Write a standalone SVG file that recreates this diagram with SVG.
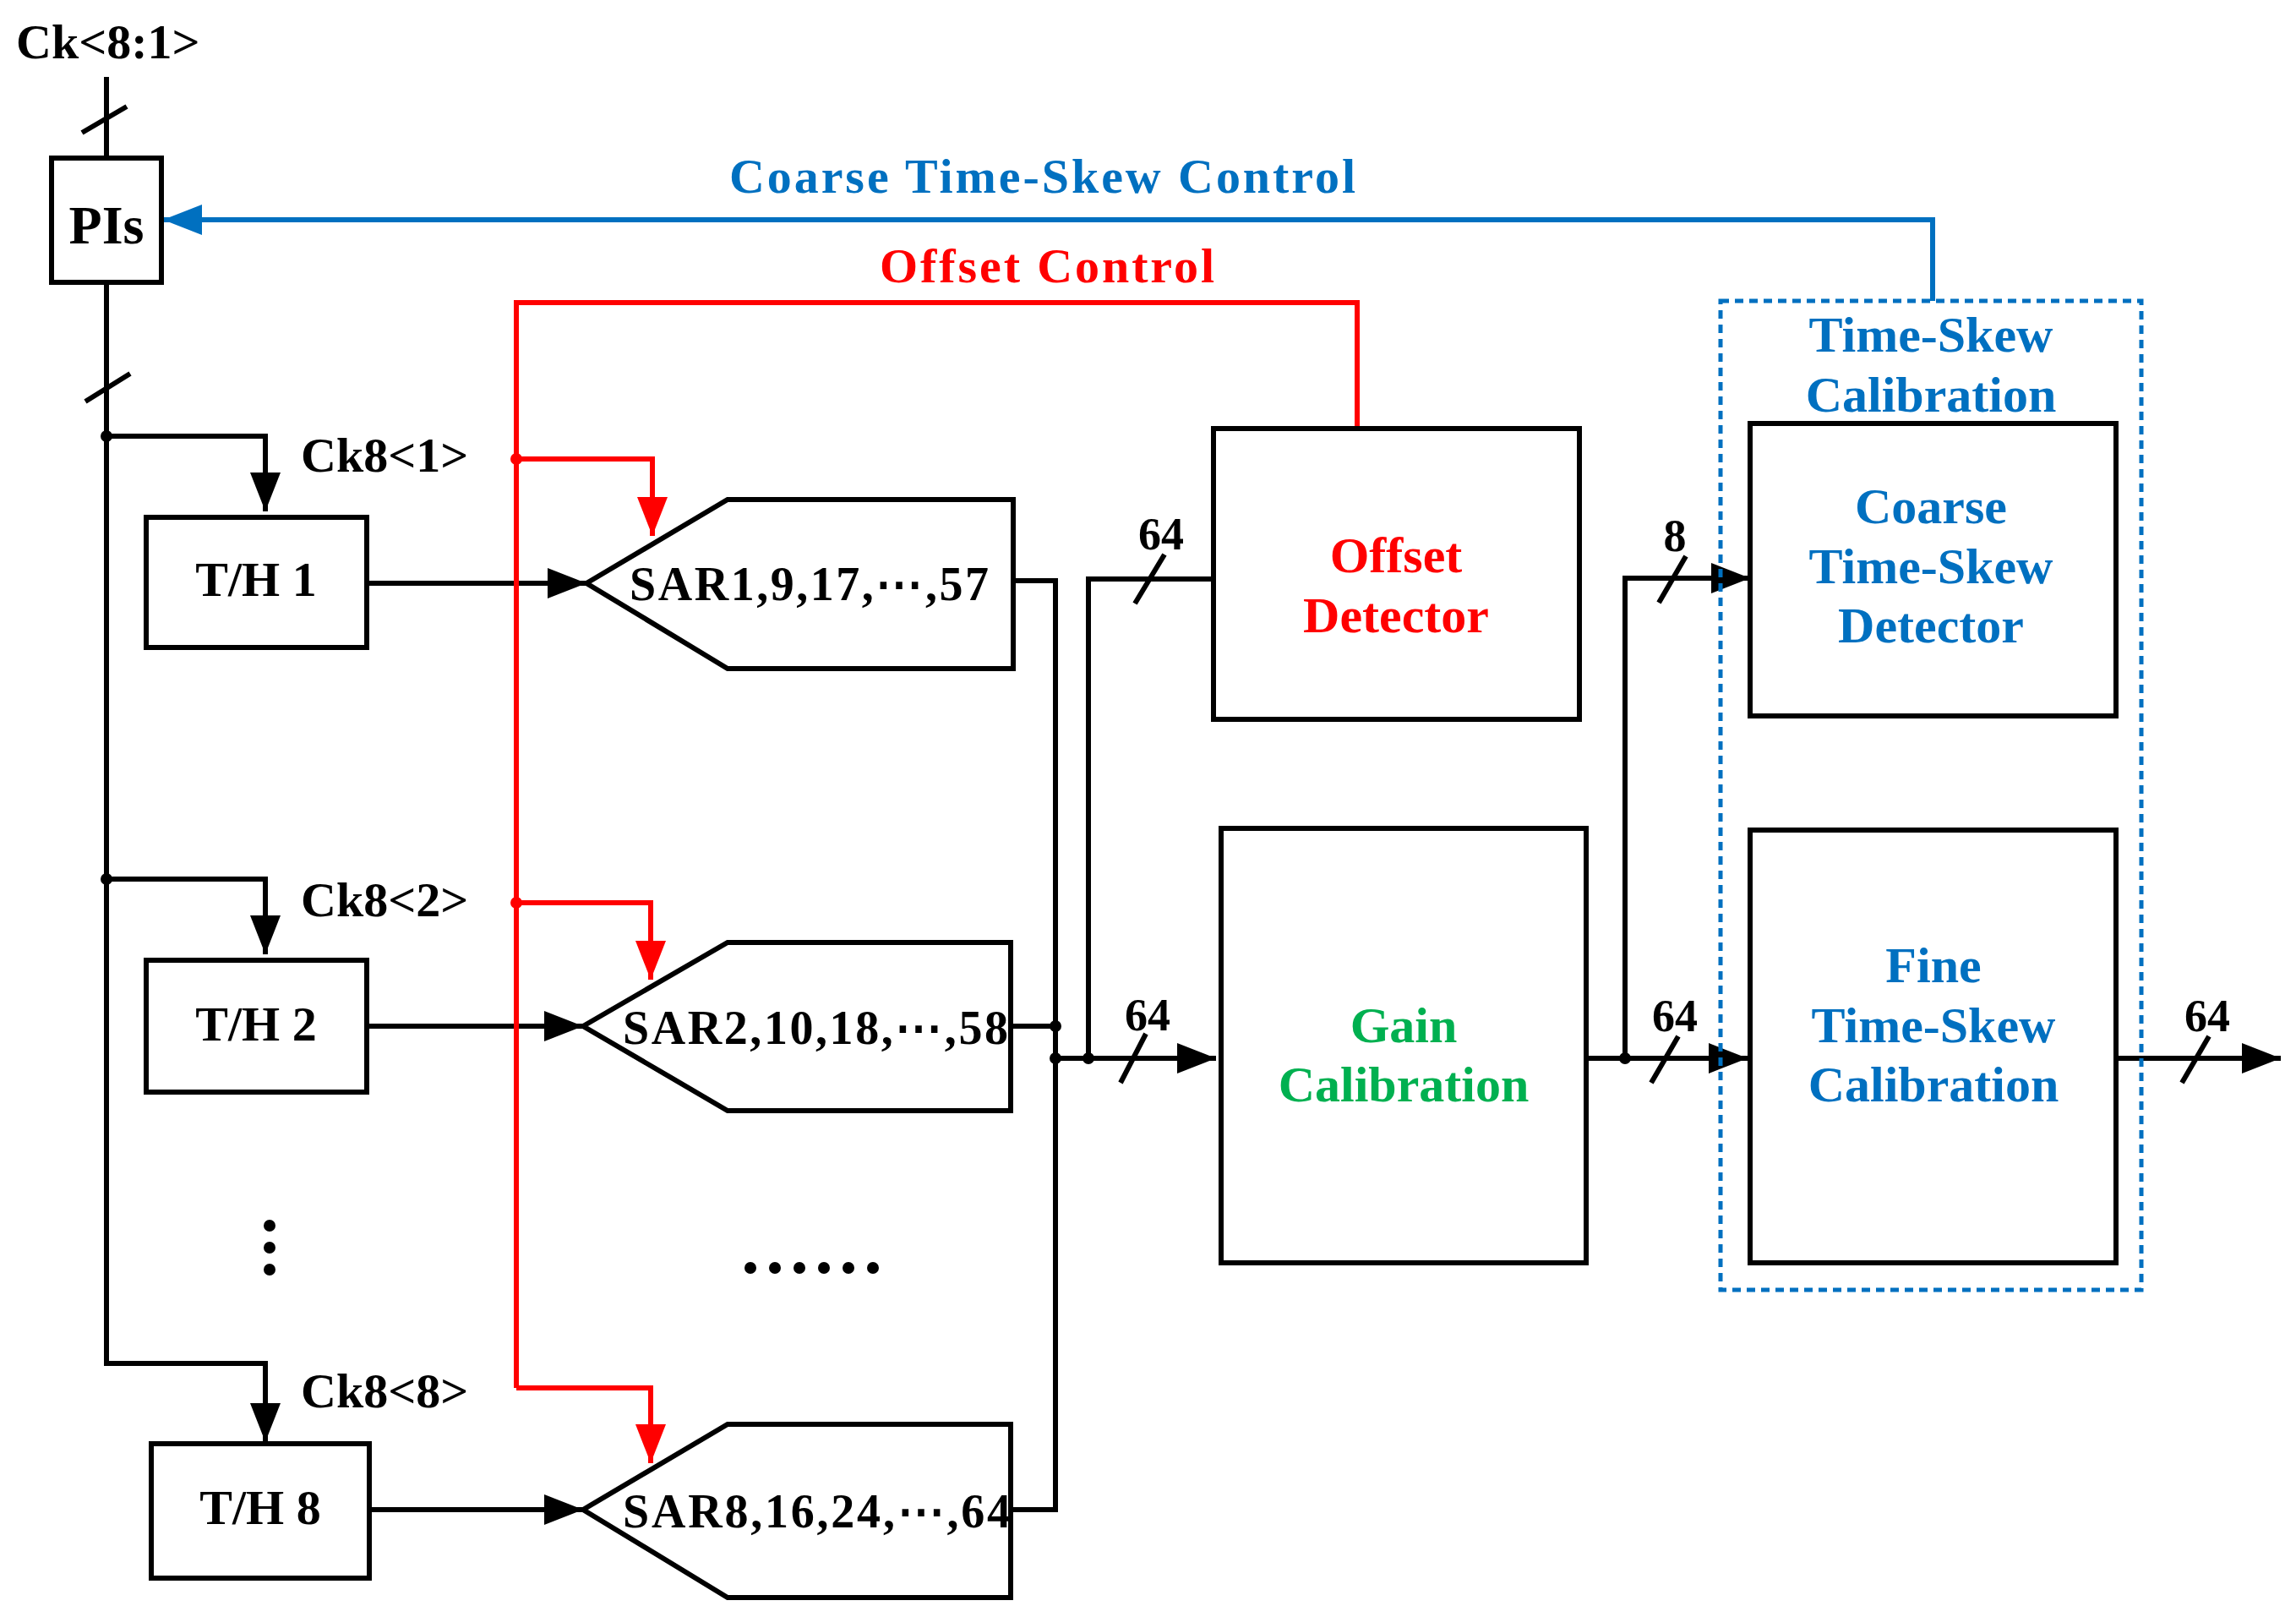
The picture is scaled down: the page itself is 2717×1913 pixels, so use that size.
<svg xmlns="http://www.w3.org/2000/svg" width="2717" height="1913" viewBox="0 0 2717 1913">
<style>
text{font-family:"Liberation Serif","DejaVu Serif",serif;font-weight:bold}
.k{fill:#000}.b{fill:#0070C0}.r{fill:#FF0000}.g{fill:#00B050}
.box{fill:#fff;stroke:#000;stroke-width:6}
.w{fill:none;stroke:#000;stroke-width:6}
.wr{fill:none;stroke:#FF0000;stroke-width:6}
.wb{fill:none;stroke:#0070C0;stroke-width:6}
.c{text-anchor:middle}
</style>
<defs>
<marker id="ak" markerUnits="userSpaceOnUse" markerWidth="50" markerHeight="40" refX="46" refY="18" orient="auto"><path d="M0,0 L46,18 L0,36 Z" fill="#000"/></marker>
<marker id="ar" markerUnits="userSpaceOnUse" markerWidth="50" markerHeight="40" refX="46" refY="18" orient="auto"><path d="M0,0 L46,18 L0,36 Z" fill="#FF0000"/></marker>
<marker id="ab" markerUnits="userSpaceOnUse" markerWidth="50" markerHeight="40" refX="46" refY="18" orient="auto"><path d="M0,0 L46,18 L0,36 Z" fill="#0070C0"/></marker>
</defs>

<g id="connectors">
<path class="w" d="M126,91 V187 M126,334 V1613 H314 V1706"/>
<path class="w" d="M97,157 L150,126 M101,475 L154,442"/>
<path class="w" d="M126,516 H314 V605" marker-end="url(#ak)"/>
<path class="w" d="M126,1040 H314 V1129" marker-end="url(#ak)"/>
<path class="w" d="M126,1613 H314 V1706" marker-end="url(#ak)"/>
<circle cx="126" cy="516" r="7"/><circle cx="126" cy="1040" r="7"/>
<path class="w" d="M434,690 H694" marker-end="url(#ak)"/>
<path class="w" d="M434,1214 H690" marker-end="url(#ak)"/>
<path class="w" d="M437,1786 H690" marker-end="url(#ak)"/>
<path class="w" d="M1199,687 H1249 V1786 H1196 M1196,1214 H1249"/>
<path class="w" d="M1249,1252 H1439" marker-end="url(#ak)"/>
<path class="w" d="M1288,1252 V685 H1436"/>
<circle cx="1249" cy="1214" r="7"/><circle cx="1249" cy="1252" r="7"/><circle cx="1288" cy="1252" r="7"/>
<path class="w" d="M1343,714 L1378,656 M1326,1281 L1356,1223"/>
<path class="w" d="M1877,1252 H2068" marker-end="url(#ak)"/>
<path class="w" d="M1923,1252 V684 H2071" marker-end="url(#ak)"/>
<circle cx="1923" cy="1252" r="7"/>
<path class="w" d="M1963,713 L1995,658 M1954,1281 L1986,1226"/>
<path class="w" d="M2504,1252 H2699" marker-end="url(#ak)"/>
<path class="w" d="M2582,1281 L2614,1226"/>
<path class="wr" d="M1606,506 V358 H611 V1642"/>
<path class="wr" d="M611,543 H772 V634" marker-end="url(#ar)"/>
<path class="wr" d="M611,1068 H770 V1159" marker-end="url(#ar)"/>
<path class="wr" d="M611,1642 H770 V1731" marker-end="url(#ar)"/>
<circle cx="611" cy="543" r="7" fill="#FF0000"/><circle cx="611" cy="1068" r="7" fill="#FF0000"/>
<path class="wb" d="M2287,356 V260 H193" marker-end="url(#ab)"/>
</g>

<text x="19" y="69" font-size="58" class="k">Ck&lt;8:1&gt;</text>
<text x="356" y="558" font-size="58" class="k">Ck8&lt;1&gt;</text>
<text x="356" y="1084" font-size="58" class="k">Ck8&lt;2&gt;</text>
<text x="356" y="1665" font-size="58" class="k">Ck8&lt;8&gt;</text>
<text x="1374" y="650" font-size="54" class="k c">64</text>
<text x="1358" y="1219" font-size="54" class="k c">64</text>
<text x="1982" y="652" font-size="54" class="k c">8</text>
<text x="1982" y="1220" font-size="54" class="k c">64</text>
<text x="2612" y="1220" font-size="54" class="k c">64</text>
<text x="863" y="228" font-size="58" class="b" textLength="741">Coarse Time-Skew Control</text>
<text x="1041" y="334" font-size="58" class="r" textLength="396">Offset Control</text>

<g id="pis"><rect class="box" x="61" y="187" width="130" height="147"/><text x="126" y="288" font-size="64" class="k c">PIs</text></g>
<g id="th1"><rect class="box" x="173" y="612" width="261" height="154"/><text x="303" y="705" font-size="58" class="k c">T/H 1</text></g>
<g id="th2"><rect class="box" x="173" y="1136" width="261" height="156"/><text x="303" y="1231" font-size="58" class="k c">T/H 2</text></g>
<g id="th8"><rect class="box" x="179" y="1708" width="258" height="159"/><text x="308" y="1803" font-size="58" class="k c">T/H 8</text></g>
<g id="sar1"><path class="box" d="M694,690 L861,591 H1199 V791 H861 Z"/><text x="745" y="710" font-size="56" class="k" textLength="425">SAR1,9,17,⋯,57</text></g>
<g id="sar2"><path class="box" d="M690,1214 L861,1115 H1196 V1314 H861 Z"/><text x="737" y="1235" font-size="56" class="k" textLength="456">SAR2,10,18,⋯,58</text></g>
<g id="sar8"><path class="box" d="M690,1786 L861,1685 H1196 V1890 H861 Z"/><text x="737" y="1807" font-size="56" class="k" textLength="459">SAR8,16,24,⋯,64</text></g>
<g id="dots" class="k">
<circle cx="319" cy="1450" r="7"/><circle cx="319" cy="1476" r="7"/><circle cx="319" cy="1502" r="7"/>
<circle cx="888" cy="1500" r="7"/><circle cx="917" cy="1500" r="7"/><circle cx="946" cy="1500" r="7"/><circle cx="975" cy="1500" r="7"/><circle cx="1004" cy="1500" r="7"/><circle cx="1033" cy="1500" r="7"/>
</g>
<g id="offsetdet"><rect class="box" x="1436" y="507" width="433" height="344"/><text x="1652" y="677" font-size="60" class="r c">Offset</text><text x="1652" y="748" font-size="60" class="r c">Detector</text></g>
<g id="gain"><rect class="box" x="1445" y="980" width="432" height="514"/><text x="1661" y="1233" font-size="60" class="g c">Gain</text><text x="1661" y="1303" font-size="60" class="g c">Calibration</text></g>
<g id="tsgroup"><rect x="2036" y="356" width="498" height="1170" fill="none" stroke="#0070C0" stroke-width="5" stroke-dasharray="10,7"/><text x="2285" y="416" font-size="60" class="b c">Time-Skew</text><text x="2285" y="487" font-size="60" class="b c">Calibration</text></g>
<g id="coarsedet"><rect class="box" x="2071" y="501" width="433" height="346"/><text x="2285" y="619" font-size="60" class="b c">Coarse</text><text x="2285" y="690" font-size="60" class="b c">Time-Skew</text><text x="2285" y="760" font-size="60" class="b c">Detector</text></g>
<g id="finecal"><rect class="box" x="2071" y="982" width="433" height="512"/><text x="2288" y="1162" font-size="60" class="b c">Fine</text><text x="2288" y="1233" font-size="60" class="b c">Time-Skew</text><text x="2288" y="1303" font-size="60" class="b c">Calibration</text></g>
</svg>
